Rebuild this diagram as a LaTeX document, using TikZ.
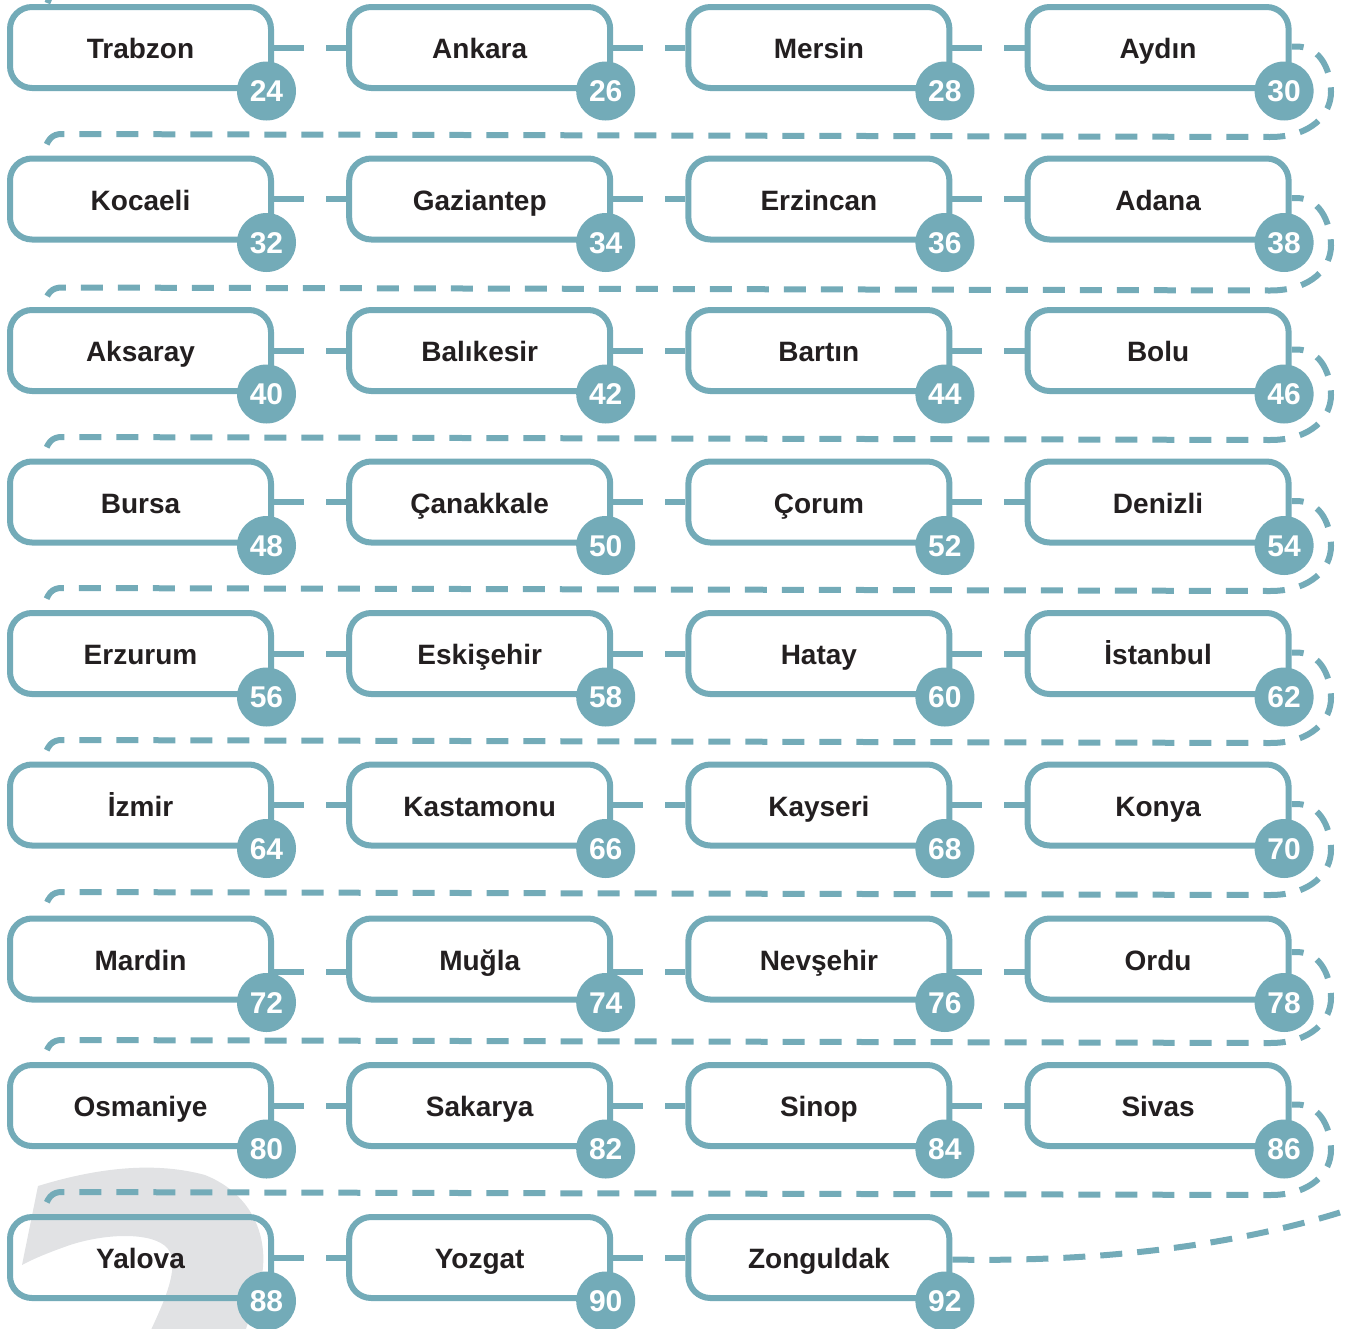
\documentclass[tikz,border=0pt]{standalone}
\usepackage{fontspec}
\setmainfont{Liberation Sans}
\usetikzlibrary{calc}
\definecolor{tealc}{RGB}{115,171,184}
\definecolor{grayw}{RGB}{225,226,228}
\definecolor{ink}{RGB}{35,31,32}
\begin{document}
\begin{tikzpicture}[x=1pt,y=-1pt,
  citybox/.style={draw=tealc, line width=6pt, rounded corners=22pt,
    minimum width=261pt, minimum height=81pt, inner sep=0pt, text=ink,
    text height=22pt, text depth=0pt,
    font=\bfseries\fontsize{28}{30}\selectfont},
  badge/.style={circle, fill=tealc, minimum size=59pt, inner sep=0pt, text=white,
    text height=21.5pt, text depth=0pt,
    font=\bfseries\fontsize{30}{30}\selectfont},
  conn/.style={draw=tealc, line width=6pt, dash pattern=on 30pt off 22pt},
  looppath/.style={draw=tealc, line width=6pt, dash pattern=on 22pt off 15pt, dash phase=10pt}]
\useasboundingbox (0,0) rectangle (1349,1328);
\clip (0,0) rectangle (1349,1328);
% background gray shape
\fill[grayw] (38,1186) .. controls (90,1170) and (150,1160) .. (205,1175)
  .. controls (255,1195) and (268,1240) .. (262,1275)
  .. controls (258,1300) and (250,1315) .. (245,1332) -- (150,1332)
  .. controls (165,1300) and (178,1270) .. (170,1252)
  .. controls (160,1232) and (110,1232) .. (70,1245)
  .. controls (50,1252) and (35,1258) .. (22,1265) -- cycle;
% boxes
\node[citybox] (c24) at (140.5,47.5) {Trabzon};
\node[citybox] (c26) at (479.7,47.5) {Ankara};
\node[citybox] (c28) at (818.9,47.5) {Mersin};
\node[citybox] (c30) at (1158.1,47.5) {Aydın};
\node[citybox] (c32) at (140.5,199) {Kocaeli};
\node[citybox] (c34) at (479.7,199) {Gaziantep};
\node[citybox] (c36) at (818.9,199) {Erzincan};
\node[citybox] (c38) at (1158.1,199) {Adana};
\node[citybox] (c40) at (140.5,350.5) {Aksaray};
\node[citybox] (c42) at (479.7,350.5) {Balıkesir};
\node[citybox] (c44) at (818.9,350.5) {Bartın};
\node[citybox] (c46) at (1158.1,350.5) {Bolu};
\node[citybox] (c48) at (140.5,502) {Bursa};
\node[citybox] (c50) at (479.7,502) {Çanakkale};
\node[citybox] (c52) at (818.9,502) {Çorum};
\node[citybox] (c54) at (1158.1,502) {Denizli};
\node[citybox] (c56) at (140.5,653.5) {Erzurum};
\node[citybox] (c58) at (479.7,653.5) {Eskişehir};
\node[citybox] (c60) at (818.9,653.5) {Hatay};
\node[citybox] (c62) at (1158.1,653.5) {İstanbul};
\node[citybox] (c64) at (140.5,805) {İzmir};
\node[citybox] (c66) at (479.7,805) {Kastamonu};
\node[citybox] (c68) at (818.9,805) {Kayseri};
\node[citybox] (c70) at (1158.1,805) {Konya};
\node[citybox] (c72) at (140.5,959) {Mardin};
\node[citybox] (c74) at (479.7,959) {Muğla};
\node[citybox] (c76) at (818.9,959) {Nevşehir};
\node[citybox] (c78) at (1158.1,959) {Ordu};
\node[citybox] (c80) at (140.5,1105.5) {Osmaniye};
\node[citybox] (c82) at (479.7,1105.5) {Sakarya};
\node[citybox] (c84) at (818.9,1105.5) {Sinop};
\node[citybox] (c86) at (1158.1,1105.5) {Sivas};
\node[citybox] (c88) at (140.5,1257.5) {Yalova};
\node[citybox] (c90) at (479.7,1257.5) {Yozgat};
\node[citybox] (c92) at (818.9,1257.5) {Zonguldak};
\coordinate (topin) at (52,-8);
\coordinate (endout) at (1360,1206);
% straight dashed connectors
\foreach \a/\b in {24/26,26/28,28/30,32/34,34/36,36/38,40/42,42/44,44/46,48/50,50/52,52/54,56/58,58/60,60/62,64/66,66/68,68/70,80/82,82/84,84/86,88/90,90/92}
  \draw[conn] (c\a.east) -- (c\b.west);
\foreach \a/\b in {72/74,74/76,76/78}
  \draw[conn] ($(c\a.east)+(0,13)$) -- ($(c\b.west)+(0,13)$);
% return loops
\foreach \a/\b/\d/\L in {30/32/-1/134,38/40/-1/287.5,46/48/-1/437,54/56/-1/588,62/64/-1/740,70/72/-1/892,78/80/-7/1040,86/88/-1/1192}{
  \path ($(c\a.east)+(0,\d)$) coordinate (s\a);
  \draw[looppath] (s\a) -- ++(5,0) .. controls +(26,0) and ($(1331,\L)+(0,-60)$) .. ($(1331,\L)+(0,-42)$)
    .. controls ($(1331,\L)+(0,-20)$) and ($(1312,\L)+(0,3)$) .. ($(1270,\L)+(0,3)$)
    -- (62,\L) .. controls ($(52,\L)$) and ($(47,\L)+(0,5)$) .. ($(c\b.north west)+(36,0)$);
}
\draw[looppath] (topin) -- ($(c24.north west)+(40,0)$);
\draw[looppath, dash phase=0pt] ($(c92.east)+(0,2)$) .. controls (1080,1262) and (1230,1250) .. (endout);
% badges
\foreach \n in {24,26,...,92}
  \node[badge] (b\n) at ($(c\n)+(126,43.5)$) {\n};
\end{tikzpicture}
\end{document}
